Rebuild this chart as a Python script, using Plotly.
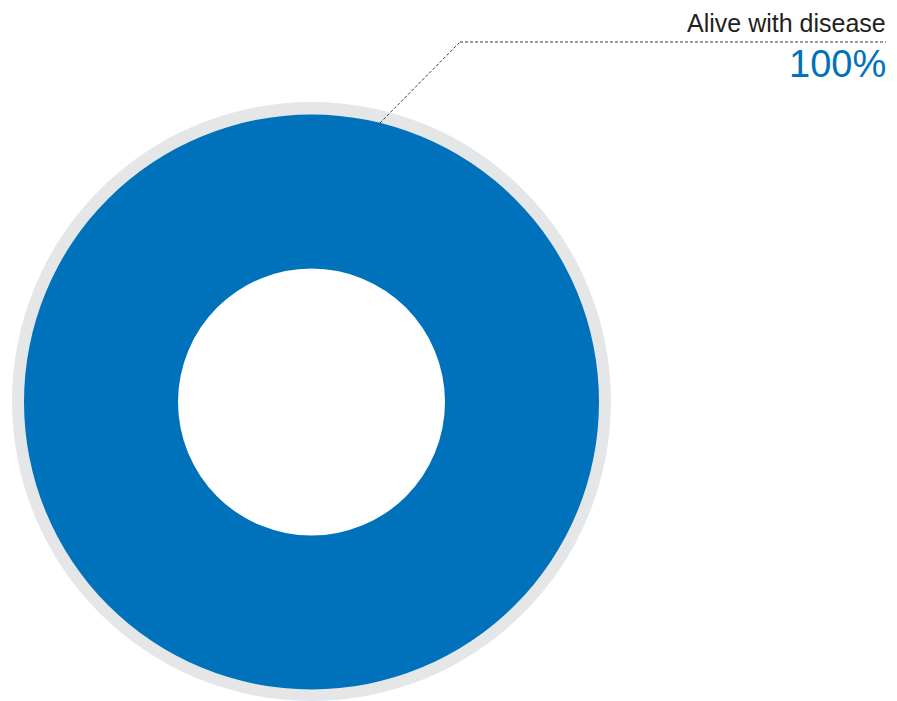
import plotly.graph_objects as go

# Data
categories = ["Alive with disease"]
values = [100]
label_pct = ["100%"]

W, H = 897, 701
BLUE = "#0071BB"
GREY = "#E5E6E8"

# geometry (pixels)
cx, cy = 311.5, 402.0
r_outer_grey = 300.0
r_blue = 287.5
r_hole = 133.5

def dom(r):
    x0 = (cx - r) / W
    x1 = (cx + r) / W
    yb = H - cy
    y0 = max(0.0, (yb - r) / H)
    y1 = (yb + r) / H
    return dict(x=[x0, x1], y=[y0, y1])

fig = go.Figure()
# grey outer ring
fig.add_trace(go.Pie(
    labels=["ring"], values=[1], hole=(r_blue - 1.5) / r_outer_grey,
    domain=dom(r_outer_grey), marker=dict(colors=[GREY], line=dict(width=0)),
    textinfo="none", hoverinfo="skip", sort=False, showlegend=False,
))
# main donut
fig.add_trace(go.Pie(
    labels=categories, values=values, hole=r_hole / r_blue,
    domain=dom(r_blue), marker=dict(colors=[BLUE], line=dict(width=0)),
    textinfo="none", sort=False, showlegend=False, direction="clockwise",
))

# leader line
p0 = (380, 123)
p1 = (460, 42)
p2 = (886, 42)
def px(x, y):
    return x / W, 1 - y / H
for a, b in [(p0, p1), (p1, p2)]:
    x0, y0 = px(*a)
    x1, y1 = px(*b)
    fig.add_shape(type="line", xref="paper", yref="paper", x0=x0, y0=y0, x1=x1, y1=y1,
                  line=dict(color="#3a3a3a", width=1, dash="3px,2px"))

fig.add_annotation(xref="paper", yref="paper", x=888 / W, y=1 - 23 / H,
                   text=categories[0], showarrow=False, xanchor="right", yanchor="middle",
                   font=dict(family="Liberation Sans, Arial, sans-serif", size=25, color="#231F20"))
fig.add_annotation(xref="paper", yref="paper", x=888 / W, y=1 - 64 / H,
                   text=label_pct[0], showarrow=False, xanchor="right", yanchor="middle",
                   font=dict(family="Liberation Sans, Arial, sans-serif", size=38, color=BLUE))

fig.update_layout(width=W, height=H, margin=dict(l=0, r=0, t=0, b=0),
                  paper_bgcolor="white", plot_bgcolor="white")
fig.write_html("out.html", config={"displayModeBar": False},
               post_script="document.body.style.margin='0';document.body.style.overflow='hidden';")
